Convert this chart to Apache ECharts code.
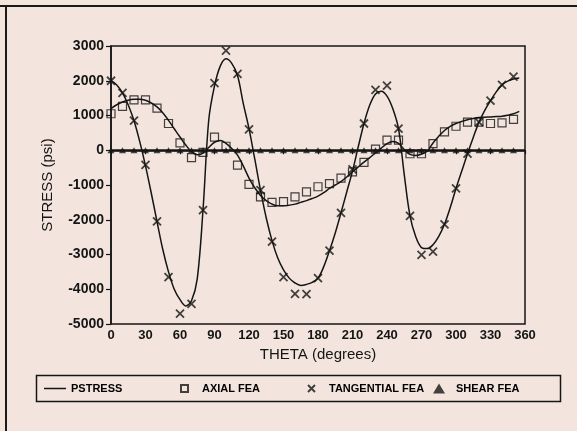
<!DOCTYPE html>
<html>
<head>
<meta charset="utf-8">
<title>Stress vs theta</title>
<script src="https://cdn.jsdelivr.net/npm/echarts@6/dist/echarts.min.js"></script>
<style>
  html, body { margin: 0; padding: 0; background: #f3e5dd; }
</style>
</head>
<body>
<div id="main" style="width: 577px;height:431px;"></div>
<script type="text/javascript">
    // FEA points, every 10 degrees
    var theta = [0, 10, 20, 30, 40, 50, 60, 70, 80, 90, 100, 110, 120, 130, 140, 150, 160, 170,
                 180, 190, 200, 210, 220, 230, 240, 250, 260, 270, 280, 290, 300, 310, 320, 330, 340, 350];
    var axialFea = [1050, 1260, 1450, 1450, 1210, 770, 210, -210, -60, 380, 115, -430, -980, -1340, -1500, -1480, -1340, -1200,
                    -1050, -960, -800, -620, -350, 30, 290, 290, -100, -100, 190, 530, 690, 810, 810, 770, 790, 890];
    var tangentialFea = [2000, 1650, 850, -420, -2050, -3650, -4700, -4420, -1720, 1930, 2870, 2200, 600, -1150, -2630, -3650, -4130, -4140,
                         -3680, -2890, -1800, -550, 770, 1740, 1860, 620, -1890, -3010, -2920, -2130, -1100, -100, 810, 1430, 1880, 2120];
    var shearFea = [0, 0, 0, 0, 0, 0, 0, 0, 0, 0, 0, 0, 0, 0, 0, 0, 0, 0,
                    0, 0, 0, 0, 0, 0, 0, 0, 0, 0, 0, 0, 0, 0, 0, 0, 0, 0];

    // PSTRESS curves, every 5 degrees
    var pTheta = [0, 5, 10, 15, 20, 25, 30, 35, 40, 45, 50, 55, 60, 65, 70, 75, 80, 85, 90, 95,
                  100, 105, 110, 115, 120, 125, 130, 135, 140, 145, 150, 155, 160, 165, 170, 175,
                  180, 185, 190, 195, 200, 205, 210, 215, 220, 225, 230, 235, 240, 245, 250, 255,
                  260, 265, 270, 275, 280, 285, 290, 295, 300, 305, 310, 315, 320, 325, 330, 335,
                  340, 345, 350, 355];
    var pTangential = [2000, 1880, 1650, 1300, 850, 250, -450, -1230, -2050, -2850, -3500, -4000, -4300, -4480, -4330, -3700, -1720, 870, 1850, 2420,
                       2630, 2500, 2150, 1350, 620, -250, -1150, -1950, -2600, -3100, -3440, -3680, -3820, -3890, -3860, -3800,
                       -3680, -3350, -2890, -2380, -1800, -1200, -600, 100, 770, 1300, 1620, 1700, 1560, 1200, 620, -700,
                       -1890, -2490, -2800, -2830, -2720, -2480, -2130, -1650, -1100, -600, -100, 370, 810, 1150, 1430, 1680,
                       1880, 1990, 2050, 2080];
    var pAxial = [1200, 1310, 1390, 1440, 1465, 1470, 1440, 1360, 1250, 1080, 860, 620, 380, 150, -40, -130, -80, 80, 230, 280,
                  200, 50, -140, -450, -800, -1080, -1300, -1450, -1550, -1600, -1600, -1580, -1550, -1500, -1450, -1390,
                  -1320, -1220, -1100, -1000, -900, -770, -620, -480, -340, -210, -80, 60, 190, 250, 200, 20,
                  -120, -150, -110, -30, 210, 400, 570, 690, 770, 830, 880, 915, 940, 950, 960, 970,
                  980, 1010, 1050, 1120];
    var pShearTheta = [0, 360];
    var pShear = [0, 0];

    var xTicks = [0, 30, 60, 90, 120, 150, 180, 210, 240, 270, 300, 330, 360];
    var yTicks = [-5000, -4000, -3000, -2000, -1000, 0, 1000, 2000, 3000];

    function pairs(xs, ys) {
        var out = [];
        for (var i = 0; i < xs.length; i++) out.push([xs[i], ys[i]]);
        return out;
    }

    var ink = '#151515';
    var bg = '#f3e5dd';
    var font = 'Liberation Sans';
    var crossPath = 'path://M0,0L10,10M10,0L0,10';

    var myChart = echarts.init(document.getElementById('main'));

    var legendText = { fontSize: 11, fontWeight: 'bold', color: '#000', fontFamily: font };

    var option = {
        backgroundColor: bg,
        animation: false,
        textStyle: { fontFamily: font, color: ink },
        grid: {
            left: 111, top: 46, right: 52, bottom: 107,
            show: true, borderColor: ink, borderWidth: 1.5, backgroundColor: 'transparent'
        },
        xAxis: {
            type: 'value',
            min: xTicks[0], max: xTicks[xTicks.length - 1], interval: 30,
            name: 'THETA (degrees)', nameLocation: 'middle', nameGap: 22,
            nameTextStyle: { fontSize: 15, color: ink, fontFamily: font },
            axisLine: { lineStyle: { color: ink, width: 1.5 } },
            axisTick: { show: true, length: 4, lineStyle: { color: ink, width: 1.2 } },
            axisLabel: { fontSize: 13, fontWeight: 'bold', color: ink, margin: 5, fontFamily: font },
            splitLine: { show: false }
        },
        yAxis: {
            type: 'value',
            min: yTicks[0], max: yTicks[yTicks.length - 1], interval: 1000,
            name: 'STRESS (psi)', nameLocation: 'middle', nameGap: 56,
            nameTextStyle: { fontSize: 15, color: ink, fontFamily: font },
            axisLine: { show: true, lineStyle: { color: ink, width: 1.5 } },
            axisTick: { show: true, length: 5, lineStyle: { color: ink, width: 1.2 } },
            axisLabel: { fontSize: 14, fontWeight: 'bold', color: ink, margin: 7, fontFamily: font,
                         formatter: function (v) { return String(v); } },
            splitLine: { show: false }
        },
        legend: [
            {
                data: [{ name: 'PSTRESS', icon: 'rect' }], left: 39, top: 378, itemWidth: 22, itemHeight: 1.5,
                textStyle: legendText
            },
            {
                data: ['AXIAL FEA'], left: 175, top: 378, itemWidth: 7, itemHeight: 7,
                textStyle: Object.assign({ padding: [0, 0, 0, 9] }, legendText)
            },
            {
                data: ['TANGENTIAL FEA'], left: 302, top: 378, itemWidth: 7, itemHeight: 7,
                textStyle: Object.assign({ padding: [0, 0, 0, 9] }, legendText)
            },
            {
                data: ['SHEAR FEA'], left: 428, top: 378, itemWidth: 12, itemHeight: 10,
                textStyle: Object.assign({ padding: [0, 0, 0, 6] }, legendText)
            }
        ],
        graphic: [
            // legend box
            { type: 'rect', left: 34, top: 373, shape: { width: 524, height: 26 },
              style: { fill: 'none', stroke: ink, lineWidth: 1.5 }, silent: true },
            // page frame (top and left edges of the scan)
            { type: 'line', shape: { x1: 0, y1: 6, x2: 577, y2: 6 },
              style: { stroke: '#1a1a1a', lineWidth: 2 }, silent: true },
            { type: 'line', shape: { x1: 6, y1: 6, x2: 6, y2: 431 },
              style: { stroke: '#1a1a1a', lineWidth: 2 }, silent: true }
        ],
        series: [
            {
                name: 'PSTRESS', type: 'line', data: pairs(pShearTheta, pShear),
                symbol: 'none', lineStyle: { color: ink, width: 2 }, itemStyle: { color: ink }, z: 2
            },
            {
                name: 'PSTRESS', type: 'line', data: pairs(pTheta, pTangential), smooth: 0.35,
                symbol: 'none', lineStyle: { color: ink, width: 1.5 }, itemStyle: { color: ink }, z: 2
            },
            {
                name: 'PSTRESS', type: 'line', data: pairs(pTheta, pAxial), smooth: 0.35,
                symbol: 'none', lineStyle: { color: ink, width: 1.5 }, itemStyle: { color: ink }, z: 2
            },
            {
                name: 'AXIAL FEA', type: 'scatter', data: pairs(theta, axialFea),
                symbol: 'rect', symbolSize: 8,
                itemStyle: { color: 'transparent', borderColor: ink, borderWidth: 1.2 }, z: 3
            },
            {
                name: 'TANGENTIAL FEA', type: 'scatter', data: pairs(theta, tangentialFea),
                symbol: crossPath, symbolSize: 8,
                itemStyle: { color: ink, borderColor: ink, borderWidth: 1.8 }, z: 3
            },
            {
                name: 'SHEAR FEA', type: 'scatter', data: pairs(theta, shearFea),
                symbol: 'triangle', symbolSize: [7, 6],
                itemStyle: { color: ink }, z: 4
            }
        ]
    };

    myChart.setOption(option);
</script>
</body>
</html>
